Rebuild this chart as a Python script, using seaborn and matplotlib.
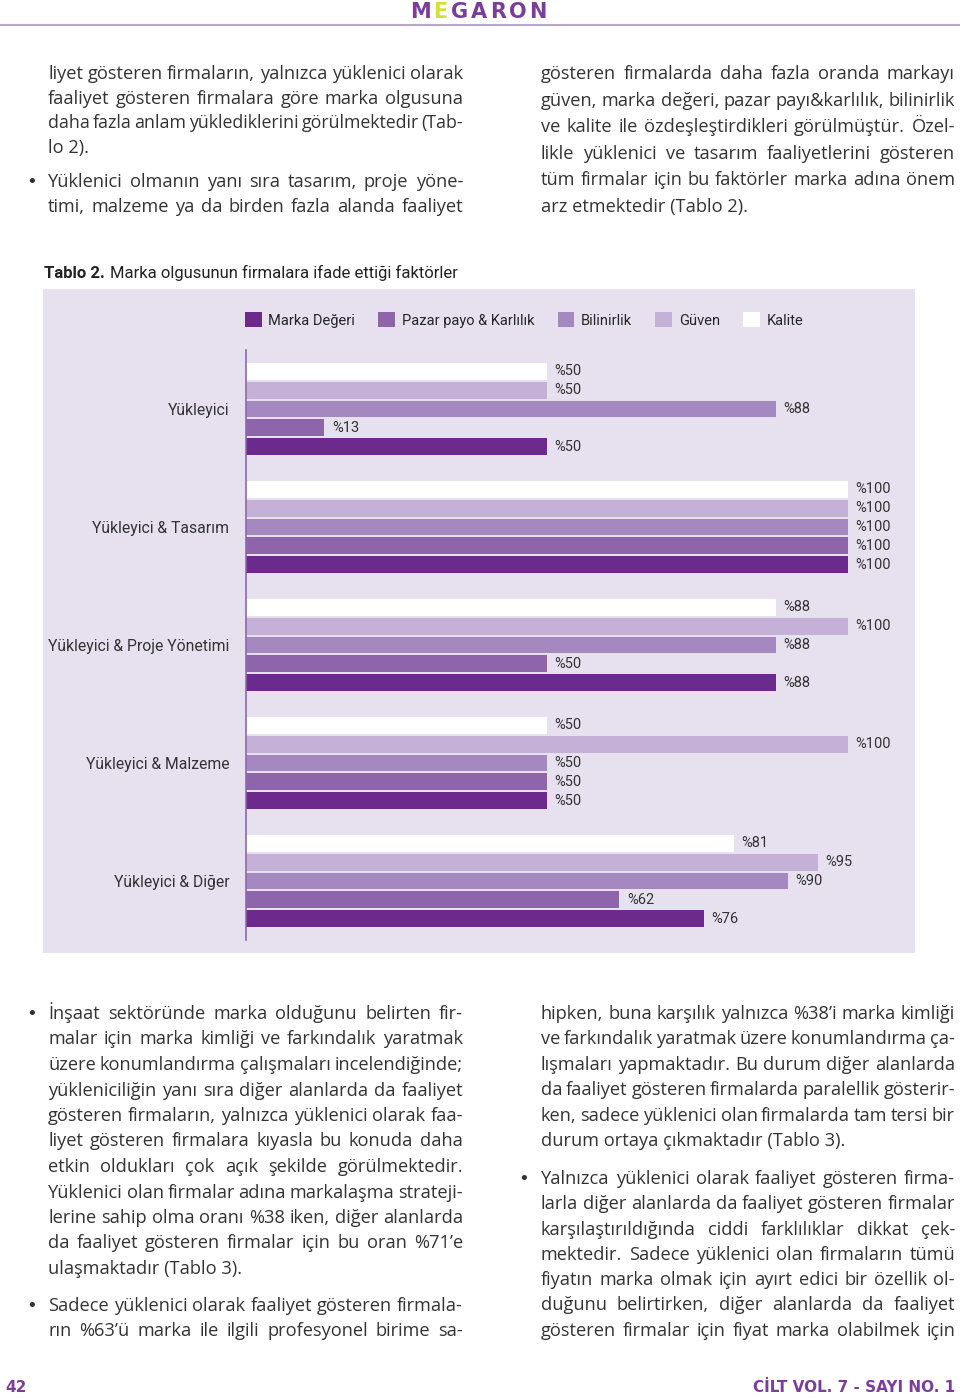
import matplotlib
matplotlib.use("Agg")
import matplotlib.pyplot as plt
import seaborn as sns
import pandas as pd
from matplotlib import font_manager
from matplotlib.patches import Rectangle, Patch
from matplotlib.lines import Line2D

# ---------------- data ----------------
categories = ["Yükleyici", "Yükleyici & Tasarım", "Yükleyici & Proje Yönetimi",
              "Yükleyici & Malzeme", "Yükleyici & Diğer"]
legend_order = ["Marka Değeri", "Pazar payo & Karlılık", "Bilinirlik", "Güven", "Kalite"]
marka_degeri = [50, 100, 88, 50, 76]
pazar_payi = [13, 100, 50, 50, 62]
bilinirlik = [88, 100, 88, 50, 90]
guven = [50, 100, 100, 100, 95]
kalite = [50, 100, 88, 50, 81]

series = {
    "Kalite": kalite,
    "Güven": guven,
    "Bilinirlik": bilinirlik,
    "Pazar payo & Karlılık": pazar_payi,
    "Marka Değeri": marka_degeri,
}
hue_order = ["Kalite", "Güven", "Bilinirlik", "Pazar payo & Karlılık", "Marka Değeri"]
palette = {
    "Marka Değeri": "#6D2A8D",
    "Pazar payo & Karlılık": "#8E64AB",
    "Bilinirlik": "#A688C0",
    "Güven": "#C5B0D8",
    "Kalite": "#FFFFFF",
}

rows = []
for name in hue_order:
    for cat, v in zip(categories, series[name]):
        rows.append({"cat": cat, "series": name, "value": v})
df = pd.DataFrame(rows)

# ---------------- fonts ----------------
avail = {f.name for f in font_manager.fontManager.ttflist}
body_font = "Open Sans" if "Open Sans" in avail else ("Lato" if "Lato" in avail else "DejaVu Sans")
chart_font = "Liberation Sans Narrow" if "Liberation Sans Narrow" in avail else "Roboto"

sns.set_theme(style="white")
plt.rcParams["font.family"] = [body_font, "DejaVu Sans"]

W, H = 960, 1397
fig = plt.figure(figsize=(W / 100, H / 100), dpi=100)
fig.patch.set_facecolor("white")


def fx(x):
    return x / W


def fy(y):
    return 1 - y / H


TEXT = "#333333"
PURPLE = "#7A3E9A"
PANEL = "#E7E1EF"

renderer = fig.canvas.get_renderer()

# calibrate body font size so that a known line has the reference width
_probe = fig.text(0, 0, "arz etmektedir (Tablo 2).", fontsize=10, family=[body_font, "DejaVu Sans"])
_pw = _probe.get_window_extent(renderer).width
_probe.remove()
BODY_SIZE = 10 * 207.0 / _pw

# ---------------- header ----------------
fig.add_artist(Line2D([0, 1], [fy(25), fy(25)], color="#B9A9C9", lw=1.5))
for i, ch in enumerate("MEGARON"):
    fig.text(fx(421 + i * 19.4), fy(12), ch, ha="center", va="center",
             fontsize=15, fontweight="bold", family="DejaVu Sans",
             color="#D4DE3C" if ch == "E" and i == 1 else PURPLE)

# ---------------- body text ----------------


def place_line(x0, x1, y, text, justify):
    size = BODY_SIZE
    kw = dict(color=TEXT, family=[body_font, "DejaVu Sans"], va="baseline")
    if not justify:
        fig.text(fx(x0), fy(y), text, fontsize=size, **kw)
        return
    words = text.split()
    while True:
        ts = [fig.text(0, fy(y), w, fontsize=size, **kw) for w in words]
        widths = [t.get_window_extent(renderer).width for t in ts]
        gap = ((x1 - x0) - sum(widths)) / (len(words) - 1)
        min_gap = 0.15 * size * 100 / 72
        if gap >= min_gap or size < BODY_SIZE * 0.85:
            break
        for t in ts:
            t.remove()
        size *= 0.99
    x = x0
    for t, w in zip(ts, widths):
        t.set_x(fx(x))
        x += w + gap


def block(x0, x1, y0, dy, lines, bullet_x=None):
    if bullet_x is not None:
        fig.text(fx(bullet_x), fy(y0), "•", fontsize=BODY_SIZE, color=TEXT,
                 ha="center", va="baseline", family="DejaVu Sans")
    for i, (t, j) in enumerate(lines):
        place_line(x0, x1, y0 + i * dy, t, j)


LX0, LX1 = 48, 463
RX0, RX1 = 541, 955
B = 6  # baseline offset

block(LX0, LX1, 73 + B, 24.5, [
    ("liyet gösteren firmaların, yalnızca yüklenici olarak", True),
    ("faaliyet gösteren firmalara göre marka olgusuna", True),
    ("daha fazla anlam yüklediklerini görülmektedir (Tab-", True),
    ("lo 2).", False),
])
block(LX0, LX1, 181 + B, 25, [
    ("Yüklenici olmanın yanı sıra tasarım, proje yöne-", True),
    ("timi, malzeme ya da birden fazla alanda faaliyet", True),
], bullet_x=32)
block(RX0, RX1, 73 + B, 26.6, [
    ("gösteren firmalarda daha fazla oranda markayı", True),
    ("güven, marka değeri, pazar payı&karlılık, bilinirlik", True),
    ("ve kalite ile özdeşleştirdikleri görülmüştür. Özel-", True),
    ("likle yüklenici ve tasarım faaliyetlerini gösteren", True),
    ("tüm firmalar için bu faktörler marka adına önem", True),
    ("arz etmektedir (Tablo 2).", False),
])

block(LX0, LX1, 1013 + B, 25.5, [
    ("İnşaat sektöründe marka olduğunu belirten fir-", True),
    ("malar için marka kimliği ve farkındalık yaratmak", True),
    ("üzere konumlandırma çalışmaları incelendiğinde;", True),
    ("yükleniciliğin yanı sıra diğer alanlarda da faaliyet", True),
    ("gösteren firmaların, yalnızca yüklenici olarak faa-", True),
    ("liyet gösteren firmalara kıyasla bu konuda daha", True),
    ("etkin oldukları çok açık şekilde görülmektedir.", True),
    ("Yüklenici olan firmalar adına markalaşma strateji-", True),
    ("lerine sahip olma oranı %38 iken, diğer alanlarda", True),
    ("da faaliyet gösteren firmalar için bu oran %71’e", True),
    ("ulaşmaktadır (Tablo 3).", False),
], bullet_x=32)
block(LX0, LX1, 1305 + B, 25.5, [
    ("Sadece yüklenici olarak faaliyet gösteren firmala-", True),
    ("rın %63’ü marka ile ilgili profesyonel birime sa-", True),
], bullet_x=32)
block(RX0, RX1, 1013 + B, 25.4, [
    ("hipken, buna karşılık yalnızca %38’i marka kimliği", True),
    ("ve farkındalık yaratmak üzere konumlandırma ça-", True),
    ("lışmaları yapmaktadır. Bu durum diğer alanlarda", True),
    ("da faaliyet gösteren firmalarda paralellik gösterir-", True),
    ("ken, sadece yüklenici olan firmalarda tam tersi bir", True),
    ("durum ortaya çıkmaktadır (Tablo 3).", False),
])
block(RX0, RX1, 1178 + B, 25.3, [
    ("Yalnızca yüklenici olarak faaliyet gösteren firma-", True),
    ("larla diğer alanlarda da faaliyet gösteren firmalar", True),
    ("karşılaştırıldığında ciddi farklılıklar dikkat çek-", True),
    ("mektedir. Sadece yüklenici olan firmaların tümü", True),
    ("fiyatın marka olmak için ayırt edici bir özellik ol-", True),
    ("duğunu belirtirken, diğer alanlarda da faaliyet", True),
    ("gösteren firmalar için fiyat marka olabilmek için", True),
], bullet_x=524)

# ---------------- footer ----------------
fig.text(fx(5), fy(1388), "42", fontsize=11, fontweight="bold", color=PURPLE,
         va="center", ha="left", family="DejaVu Sans")
fig.text(fx(955), fy(1388), "CİLT VOL. 7 - SAYI NO. 1", fontsize=11, fontweight="bold",
         color=PURPLE, va="center", ha="right", family="DejaVu Sans")

# ---------------- table title ----------------
t1 = fig.text(fx(44), fy(278), "Tablo 2.", fontsize=12, fontweight="bold", color="#222222",
              va="baseline", family=[chart_font, "DejaVu Sans"])
w1 = t1.get_window_extent(renderer).width
fig.text(fx(44 + w1 + 5), fy(278), "Marka olgusunun firmalara ifade ettiği faktörler",
         fontsize=12, color="#222222", va="baseline", family=[chart_font, "DejaVu Sans"])

# ---------------- panel ----------------
fig.add_artist(Rectangle((fx(43), fy(953)), (915 - 43) / W, (953 - 289) / H,
                         facecolor=PANEL, edgecolor="none", zorder=-5))

# ---------------- chart ----------------
ax = fig.add_axes([fx(246), fy(940), (915 - 246) / W, (940 - 350) / H])
ax.set_facecolor(PANEL)
sns.barplot(data=df, y="cat", x="value", hue="series", hue_order=hue_order,
            order=categories, palette=palette, orient="h", width=0.8, gap=0.1,
            saturation=1, linewidth=0, legend=False, ax=ax)
ax.set_xlim(0, (915 - 246) / 6.02)
ax.set_ylim(4.5, -0.5)
ax.set_xticks([])
ax.set_xlabel("")
ax.set_ylabel("")
for s in ["top", "right", "bottom"]:
    ax.spines[s].set_visible(False)
ax.spines["left"].set_color("#8B6AA8")
ax.spines["left"].set_linewidth(1.2)
ax.tick_params(axis="y", length=0, pad=12)
for lbl in ax.get_yticklabels():
    lbl.set_fontfamily([chart_font, "DejaVu Sans"])
    lbl.set_fontsize(11.3)
    lbl.set_color("#333333")

for cont, name in zip(ax.containers, hue_order):
    ax.bar_label(cont, labels=[f"%{v}" for v in series[name]], padding=5.5,
                 fontsize=10.5, color="#333333", family=[chart_font, "DejaVu Sans"])

handles = [Patch(facecolor=palette[n], edgecolor="none") for n in legend_order]
fig.legend(handles, legend_order, loc="center", bbox_to_anchor=(fx(524), fy(320)),
           ncol=5, frameon=False, handlelength=1.15, handleheight=1.15,
           handletextpad=0.45, columnspacing=1.6,
           prop={"family": [chart_font, "DejaVu Sans"], "size": 10.5})

fig.savefig("out.png", dpi=100, facecolor="white")
